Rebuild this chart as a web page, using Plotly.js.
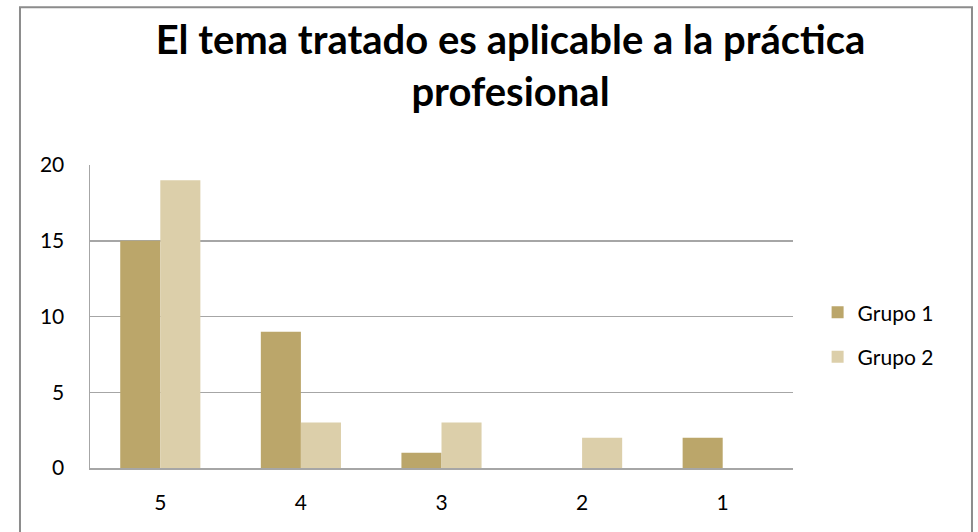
<!DOCTYPE html>
<html><head><meta charset="utf-8">
<script src="https://cdn.plot.ly/plotly-3.0.1.min.js"></script>
<style>html,body{margin:0;padding:0;background:#fff;}#chart{width:978px;height:532px;}</style>
</head><body><div id="chart"></div>
<script>
const categories = ["5", "4", "3", "2", "1"];
const grupo1 = [15, 9, 1, 0, 2];
const grupo2 = [19, 3, 3, 2, 0];
const seriesNames = ["Grupo 1", "Grupo 2"];
const titleText = "El tema tratado es aplicable a la práctica<br>profesional";

const fontFam = "Lato, 'Open Sans', sans-serif";
const traces = [
  {type:'bar', name:seriesNames[0], x:categories, y:grupo1, legendgroup:'g1',
   marker:{color:'#BBA66A', line:{width:0}}},
  {type:'bar', name:seriesNames[1], x:categories, y:grupo2, legendgroup:'g2',
   marker:{color:'#DCCFAA', line:{width:0}}}
];
const layout = {
  width:978, height:532,
  margin:{l:90, r:185, t:165, b:64, autoexpand:false},
  paper_bgcolor:'#fff', plot_bgcolor:'#fff',
  font:{family:fontFam, color:'#000', size:21},
  title:{text:titleText, font:{family:fontFam, size:40, color:'#000', weight:'bold'},
         x:0.522, xanchor:'center', yref:'container', y:0.898, yanchor:'top'},
  barmode:'group', bargap:0.43, bargroupgap:0,
  xaxis:{type:'category', showgrid:false, showline:true, linecolor:'#A6A6A6', linewidth:2,
         ticks:'', ticklabelstandoff:15, tickfont:{size:21}},
  yaxis:{range:[0,20], tickvals:[0,5,10,15,20], showgrid:true, gridcolor:'#A6A6A6', gridwidth:1.5,
         showline:true, linecolor:'#A6A6A6', linewidth:1.5, zeroline:false, ticks:'',
         ticklabelstandoff:20, tickfont:{size:21}},
  showlegend:true,
  legend:{x:1.035, xanchor:'left', y:0.44, yanchor:'middle', traceorder:'grouped',
          tracegroupgap:14, font:{size:21}, itemwidth:30},
  shapes:[{type:'rect', xref:'paper', yref:'paper', x0:-0.0996, x1:1.2546, y0:-0.5, y1:1.521,
           line:{color:'#8C8C8C', width:2}, fillcolor:'rgba(0,0,0,0)', layer:'below'}]
};
Plotly.newPlot('chart', traces, layout, {displayModeBar:false, staticPlot:true});
</script></body></html>
